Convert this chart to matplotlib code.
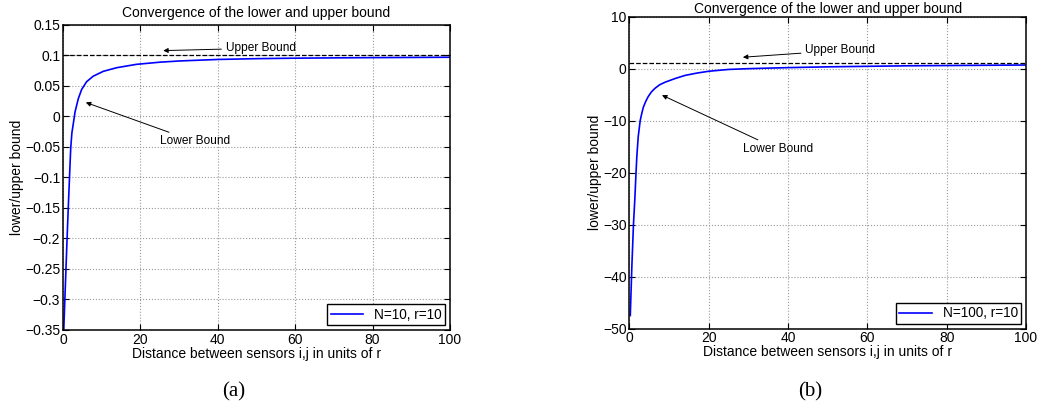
import matplotlib
matplotlib.use("Agg")
import matplotlib.pyplot as plt
from matplotlib.ticker import FuncFormatter

plt.rcParams['font.family'] = ['Liberation Sans', 'DejaVu Sans']
plt.rcParams['font.size'] = 10

# distance (units of r) and lower bound
x_a = [0.2, 0.6, 1.0, 1.3, 1.55, 1.8, 2.0, 2.3, 2.66, 3.1, 3.95, 4.8, 6.1, 7.8,
       10.4, 13.9, 19, 25, 30, 40, 50, 60, 70, 80, 90, 100]
lower_a = [-0.35, -0.28, -0.21, -0.16, -0.121, -0.082, -0.052, -0.027, -0.012, 0.007,
           0.029, 0.044, 0.057, 0.066, 0.074, 0.080, 0.0855, 0.089, 0.091, 0.0935,
           0.0948, 0.0956, 0.0961, 0.0965, 0.0968, 0.0971]
upper_a = 0.1

x_b = [0.2, 0.6, 1.0, 1.34, 1.6, 1.85, 2.2, 2.7, 3.1, 3.5, 4.1, 4.7, 5.5, 6.4, 7.6,
       9, 11.5, 14, 17, 20, 25, 30, 40, 50, 60, 70, 80, 90, 100]
lower_b = [-47.5, -38, -30, -25.2, -20.8, -16.9, -13.1, -10, -8.6, -7.4, -6.3, -5.4,
           -4.5, -3.8, -3.1, -2.6, -1.9, -1.3, -0.85, -0.5, -0.15, 0.0, 0.2, 0.35,
           0.45, 0.55, 0.6, 0.65, 0.7]
upper_b = 1.0

xticks = [0, 20, 40, 60, 80, 100]
yticks_a = [-0.35, -0.3, -0.25, -0.2, -0.15, -0.1, -0.05, 0, 0.05, 0.1, 0.15]
yticks_b = [-50, -40, -30, -20, -10, 0, 10]


def fmt(v, pos):
    s = f"{round(v, 4):g}"
    return s.replace('-', '\u2212')


def setup(ax, yticks, title_pad):
    ax.set_xlim(0, 100)
    ax.set_ylim(yticks[0], yticks[-1])
    ax.set_xticks(xticks)
    ax.set_yticks(yticks)
    ax.yaxis.set_major_formatter(FuncFormatter(fmt))
    ax.tick_params(direction='in', top=True, right=True, length=4, width=0.8,
                   labelsize=10, pad=2)
    ax.grid(True, linestyle=':', color='0.6', linewidth=0.8)
    for sp in ax.spines.values():
        sp.set_linewidth(1.1)
    ax.set_xlabel('Distance between sensors i,j in units of r', fontsize=10, labelpad=0)
    ax.set_ylabel('lower/upper bound', fontsize=10, labelpad=1)
    ax.set_title('Convergence of the lower and upper bound', fontsize=10, pad=title_pad)
    ax.legend(loc='lower right', fancybox=False, edgecolor='black', framealpha=1,
              handlelength=2.4, borderaxespad=0.35, fontsize=9.8, borderpad=0.25,
              handletextpad=0.8)


def arrow_note(ax, text, tip, start):
    ax.annotate(text, xy=tip, xytext=start, fontsize=8.6, va='center',
                arrowprops=dict(arrowstyle='-|>', color='black', lw=0.7,
                                mutation_scale=7, shrinkA=1, shrinkB=0))


fig = plt.figure(figsize=(10.41, 4.09), dpi=100)

ax1 = fig.add_axes([0.0605, 0.1932, 0.3718, 0.7457])
ax1.plot(x_a, lower_a, color='blue', lw=1.2, label='N=10, r=10')
ax1.axhline(upper_a, color='black', ls='--', lw=0.9)
arrow_note(ax1, 'Upper Bound', (25.9, 0.108), (42, 0.112))
arrow_note(ax1, 'Lower Bound', (5.9, 0.023), (25, -0.041))
setup(ax1, yticks_a, 6)

ax2 = fig.add_axes([0.6047, 0.1968, 0.3809, 0.7624])
ax2.plot(x_b, lower_b, color='blue', lw=1.2, label='N=100, r=10')
ax2.axhline(upper_b, color='black', ls='--', lw=0.9)
arrow_note(ax2, 'Upper Bound', (28.6, 2.2), (44.3, 3.5))
arrow_note(ax2, 'Lower Bound', (8.2, -5.1), (28.6, -15.5))
setup(ax2, yticks_b, 2.5)

fig.text(234 / 1041, 1 - 392 / 409, '(a)', family='Liberation Serif', fontsize=15,
         ha='center', va='center')
fig.text(810 / 1041, 1 - 392 / 409, '(b)', family='Liberation Serif', fontsize=15,
         ha='center', va='center')

fig.savefig('out.png', dpi=100)
